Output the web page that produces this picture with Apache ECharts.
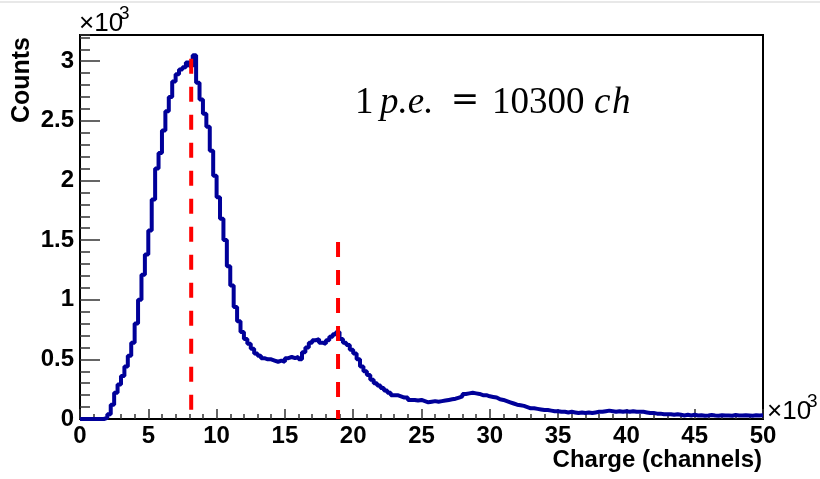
<!DOCTYPE html>
<html>
<head>
<meta charset="utf-8">
<script src="https://cdn.jsdelivr.net/npm/echarts@6/dist/echarts.min.js"></script>
<style>
html,body{margin:0;padding:0;background:#fff;}
#chart{width:820px;height:479px;}
</style>
</head>
<body>
<div id="chart"></div>
<script>
// Histogram: bin width (channels) and counts per bin, bins start at 0
const binWidth = 250;
const counts = [
  0,0,0,0,0,0,0,
  10,40,120,220,290,360,440,530,640,800,1000,1210,1380,1580,1840,2100,2230,2420,2580,2700,2830,2890,2930,2950,2990,2960,3050,
  2820,2680,2560,2450,2250,2040,1860,1680,1500,1280,1120,940,820,730,670,630,590,550,530,510,500,500,490,480,490,480,
  510,520,510,520,500,560,600,640,660,670,640,630,660,690,710,730,670,640,620,580,550,500,440,400,370,330,300,280,
  260,240,220,200,200,190,180,180,160,160,155,160,150,140,145,150,145,150,155,160,165,170,180,190,210,215,220,215,
  210,200,200,190,185,180,165,160,150,140,130,120,115,110,100,90,90,85,80,75,75,70,65,65,60,60,55,60,55,50,55,50,
  55,50,55,60,60,65,70,65,60,65,60,65,60,65,60,60,60,55,50,50,45,45,40,40,40,35,40,35,30,35,30,35,
  30,32,28,30,33,30,28,32,30,30,28,33,30,29,32,30,28,31,30,32
];
// Peak marker lines (channel position, top of dashed line in counts)
const peakPositions = [8140, 18890];
const peakTops = [3020, 1485];
// Axis ranges
const xMin = 0, xMax = 50000, xStep = 5000;
const yMin = 0, yMax = 3220, yStep = 500, yMinorStep = 100;
const annotationParts = ['1', 'p.e.', '=', '10300', 'c', 'h'];

const histData = counts.map((c, i) => [i * binWidth, c]);
histData.push([counts.length * binWidth, counts[counts.length - 1]]);

const peakSeries = peakPositions.map((x, i) => ({
  type: 'line',
  data: [[x, peakTops[i]], [x, 0]],
  symbol: 'none',
  silent: true,
  lineStyle: { color: '#ff0000', width: 4, type: [15, 13] },
  z: 5
}));

const chart = echarts.init(document.getElementById('chart'), null, { renderer: 'canvas' });
const labelFont = { fontFamily: 'Liberation Sans', fontWeight: 'bold', fontSize: 24, color: '#000' };
const serif = 'Liberation Serif';

function t(x, y, text, font, align) {
  return { type: 'text', x: x, y: y, silent: true,
    style: { text: text, font: font, fill: '#000', align: align || 'left', verticalAlign: 'middle' } };
}

chart.setOption({
  animation: false,
  backgroundColor: '#fff',
  grid: { left: 80, right: 57, top: 35, bottom: 60, show: true, borderColor: '#000', borderWidth: 2, backgroundColor: '#fff' },
  xAxis: {
    type: 'value', min: xMin, max: xMax, interval: xStep,
    axisLine: { show: true, onZero: false, lineStyle: { color: '#000', width: 2 } },
    axisTick: { show: true, inside: true, length: 10, lineStyle: { color: '#333', width: 1.5 } },
    minorTick: { show: true, splitNumber: 5, length: 5, lineStyle: { color: '#333', width: 1.5 } },
    splitLine: { show: false },
    axisLabel: Object.assign({ margin: 5, formatter: v => String(v / 1000) }, labelFont)
  },
  yAxis: [{
    type: 'value', min: yMin, max: yMax, interval: yStep,
    axisLine: { show: true, onZero: false, lineStyle: { color: '#000', width: 2 } },
    axisTick: { show: true, inside: true, length: 20, lineStyle: { color: '#333', width: 1.5 } },
    splitLine: { show: false },
    axisLabel: Object.assign({ margin: 6, showMaxLabel: false, formatter: v => String(v / 1000) }, labelFont)
  }, {
    type: 'value', min: yMin, max: yMax, interval: yMinorStep, position: 'left', offset: 0,
    axisLine: { show: false },
    axisTick: { show: true, inside: true, length: 10, lineStyle: { color: '#333', width: 1.5 } },
    splitLine: { show: false },
    axisLabel: { show: false }
  }],
  series: [{
    type: 'line',
    data: histData,
    step: 'end',
    symbol: 'none',
    silent: true,
    lineStyle: { color: '#000099', width: 4 },
    z: 4
  }].concat(peakSeries),
  graphic: [
    { type: 'rect', shape: { x: 0, y: 1, width: 820, height: 2 }, style: { fill: '#e8e8e8' }, silent: true },
    { type: 'text', x: 22.5, y: 37, rotation: Math.PI / 2, silent: true,
      style: { text: 'Counts', font: 'bold 25px "Liberation Sans"', fill: '#000', align: 'right', verticalAlign: 'middle' } },
    t(762, 460, 'Charge (channels)', 'bold 24px "Liberation Sans"', 'right'),
    t(79, 24, '×10', '26px "Liberation Sans"'),
    t(119, 13.5, '3', '19px "Liberation Sans"'),
    t(767, 412, '×10', '26px "Liberation Sans"'),
    t(807, 402, '3', '19px "Liberation Sans"'),
    t(355, 103.5, annotationParts[0], '37px "' + serif + '"'),
    t(380, 103.5, annotationParts[1], 'italic 37px "' + serif + '"'),
    t(465, 101, annotationParts[2], '34px "DejaVu Sans"', 'center'),
    t(492, 103.5, annotationParts[3], '37px "' + serif + '"'),
    t(594, 103.5, annotationParts[4], 'italic 37px "' + serif + '"'),
    t(612, 103.5, annotationParts[5], 'italic 37px "' + serif + '"')
  ]
});
</script>
</body>
</html>
